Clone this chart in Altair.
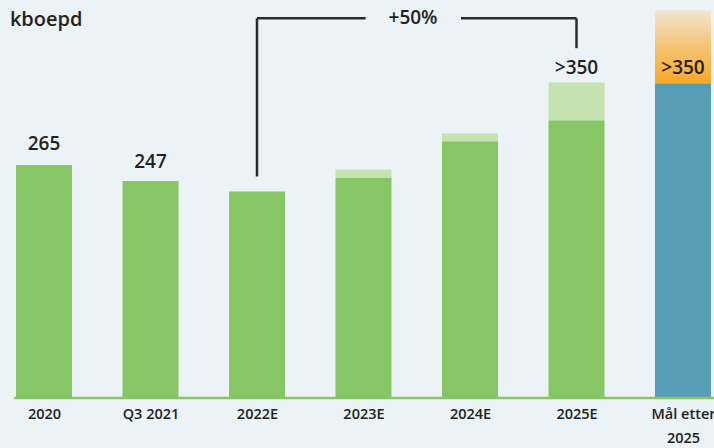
import altair as alt
import pandas as pd

categories = ["2020", "Q3 2021", "2022E", "2023E", "2024E", "2025E", "Mål etter 2025"]
base_values = [265, 247, 235, 251, 292, 316, 358]
upper_values = [265, 247, 235, 260, 301, 359, 441]
value_labels = ["265", "247", "", "", "", ">350", ">350"]
label_y = [289, 268, None, None, None, 375, 375]

idx = list(range(len(categories)))
df = pd.DataFrame({
    "i": idx,
    "cat": categories,
    "base": base_values,
    "upper": upper_values,
    "lab": value_labels,
    "ly": label_y,
    "kind": ["act", "act", "fc", "fc", "fc", "fc", "goal"],
})

BG = "#EBF3F7"
GREEN = "#86C664"
LIGHT = "#C4E3B0"
BLUE = "#559EB6"
FONT = "Open Sans"
TXT = "#222222"

xs = alt.Scale(domain=[-0.413, 6.291], nice=False, zero=False, padding=0)
ys = alt.Scale(domain=[0, 452.8], nice=False, zero=False, padding=0)

label_expr = ("datum.value == 6 ? ['Mål etter', '2025'] : "
              "['2020','Q3 2021','2022E','2023E','2024E','2025E'][datum.value]")

x_enc = alt.X("i:Q", scale=xs, axis=alt.Axis(
    values=idx, labelExpr=label_expr, title=None, grid=False, ticks=False,
    domain=False, labelFont=FONT, labelFontSize=14.5, labelFontWeight=600,
    labelColor=TXT, labelPadding=9, labelLineHeight=24, labelFlush=False))

base = alt.Chart(df)

green_bars = base.transform_filter("datum.kind != 'goal'").mark_bar(
    width=56, color=GREEN).encode(
    x=x_enc, y=alt.Y("base:Q", scale=ys, axis=None), y2=alt.datum(0))

light_bars = base.transform_filter("datum.kind == 'fc'").mark_bar(
    width=56, color=LIGHT).encode(
    x="i:Q", y=alt.Y("upper:Q", scale=ys), y2="base:Q")

blue_bar = base.transform_filter("datum.kind == 'goal'").mark_bar(
    width=56, color=BLUE).encode(
    x="i:Q", y=alt.Y("base:Q", scale=ys), y2=alt.datum(0))

grad_bar = base.transform_filter("datum.kind == 'goal'").mark_bar(
    width=56,
    color=alt.Gradient(gradient="linear", x1=0, x2=0, y1=1, y2=0,
                       stops=[alt.GradientStop(color="#F9A824", offset=0),
                              alt.GradientStop(color="#F4C77C", offset=0.55),
                              alt.GradientStop(color="#F2E5D0", offset=1)])).encode(
    x="i:Q", y=alt.Y("upper:Q", scale=ys), y2="base:Q")

labels = base.transform_filter("datum.lab != ''").mark_text(
    font=FONT, fontSize=19, fontWeight=600, color=TXT).encode(
    x="i:Q", y=alt.Y("ly:Q", scale=ys), text="lab:N")

# baseline
baseline_df = pd.DataFrame({"x0": [-0.28], "x1": [6.291], "y": [0]})
baseline = alt.Chart(baseline_df).mark_rule(color=GREEN, strokeWidth=2.5).encode(
    x=alt.X("x0:Q", scale=xs), x2="x1:Q", y=alt.Y("y:Q", scale=ys))

# bracket
br_x0 = [2, 2, 3.915, 5]
br_x1 = [2, 3.02, 5, 5]
br_y0 = [252, 432, 432, 398]
br_y1 = [432, 432, 432, 432]
br_df = pd.DataFrame({"x0": br_x0, "x1": br_x1, "y0": br_y0, "y1": br_y1})
bracket = alt.Chart(br_df).mark_rule(color="#2A2A2A", strokeWidth=2.5).encode(
    x=alt.X("x0:Q", scale=xs), x2="x1:Q",
    y=alt.Y("y0:Q", scale=ys), y2="y1:Q")

pct_df = pd.DataFrame({"x": [3.465], "y": [432], "t": ["+50%"]})
pct = alt.Chart(pct_df).mark_text(
    font=FONT, fontSize=19, fontWeight=600, color=TXT).encode(
    x=alt.X("x:Q", scale=xs), y=alt.Y("y:Q", scale=ys), text="t:N")

unit_df = pd.DataFrame({"x": [-0.32], "y": [430], "t": ["kboepd"]})
unit = alt.Chart(unit_df).mark_text(
    font=FONT, fontSize=20, fontWeight=600, color=TXT, align="left").encode(
    x=alt.X("x:Q", scale=xs), y=alt.Y("y:Q", scale=ys), text="t:N")

chart = alt.layer(
    green_bars, light_bars, blue_bar, grad_bar, baseline, labels, bracket, pct, unit
).properties(
    width=714, height=398, background=BG,
    padding={"left": 0, "top": 0, "right": 0, "bottom": 50},
    autosize=alt.AutoSizeParams(type="none")
).configure_view(stroke=None)

chart.save("out.html", embed_options={"renderer": "svg", "actions": False})
